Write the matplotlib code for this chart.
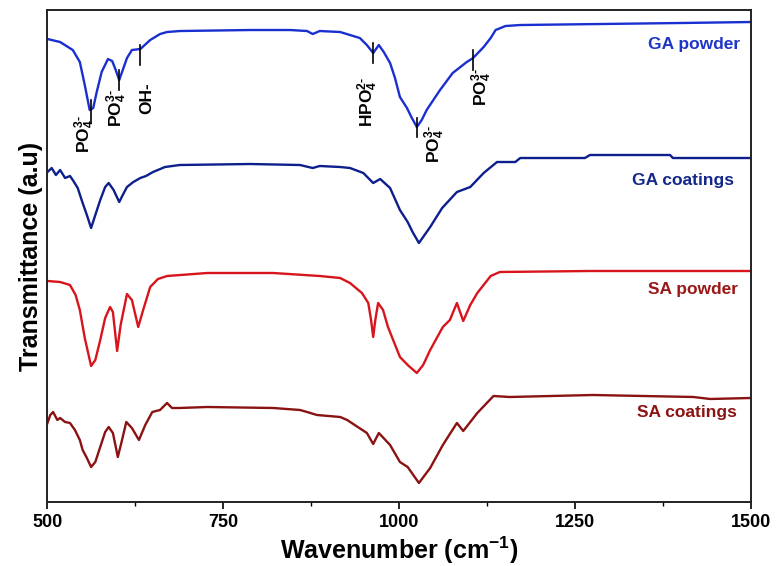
import numpy as np
import matplotlib
matplotlib.use("Agg")
import matplotlib.pyplot as plt
from matplotlib.ticker import MultipleLocator

plt.rcParams["font.family"] = ["Liberation Sans", "DejaVu Sans"]
plt.rcParams["font.weight"] = "bold"
plt.rcParams["mathtext.fontset"] = "custom"
plt.rcParams["mathtext.rm"] = "Liberation Sans:bold"
plt.rcParams["mathtext.bf"] = "Liberation Sans:bold"
plt.rcParams["mathtext.default"] = "rm"

# spectra: wavenumber (cm-1), transmittance (a.u., stacked)
ga_powder_x = [500, 518, 536, 546, 553, 560, 565, 570, 577, 586, 592, 597, 602, 606, 613, 620,
               632, 646, 660, 670, 688, 788, 845, 869, 877, 887, 916, 930, 944, 954, 963, 971,
               978, 987, 994, 1001, 1011, 1018, 1025, 1032, 1039, 1058, 1076, 1096, 1105, 1120,
               1130, 1137, 1151, 1172, 1285, 1399, 1500]
ga_powder_y = [463, 460, 452, 440, 417, 392, 394, 410, 430, 443, 441, 432, 422, 430, 444, 452,
               453, 462, 468, 470, 471, 472, 472, 471, 468, 471, 470, 467, 464, 457, 449, 457,
               450, 439, 424, 405, 394, 384, 375, 382, 392, 412, 429, 440, 444, 455,
               464, 472, 476, 477, 478, 479, 480]

ga_coat_x = [500, 506, 512, 518, 525, 532, 536, 543, 550, 556, 562, 568, 575, 582, 587, 594,
             602, 607, 613, 622, 632, 640, 650, 667, 688, 788, 859, 877, 887, 916, 930, 949,
             963, 973, 987, 1001, 1012, 1019, 1028, 1035, 1044, 1061, 1082, 1101, 1120, 1139,
             1165, 1172, 1264, 1271, 1385, 1389, 1500]
ga_coat_y = [330, 334, 327, 332, 324, 326, 322, 314, 299, 287, 274, 287, 302, 315, 319, 312,
             300, 307, 315, 320, 324, 326, 330, 335, 337, 338, 337, 334, 336, 335, 334, 329,
             319, 323, 314, 292, 280, 270, 259, 266, 275, 294, 310, 315, 329, 340,
             340, 344, 344, 347, 347, 344, 344]

sa_powder_x = [500, 518, 532, 540, 546, 553, 562, 568, 575, 582, 589, 593, 599, 604, 613, 620,
               629, 636, 646, 657, 670, 727, 821, 887, 916, 930, 947, 956, 960, 963, 966, 970,
               977, 984, 1001, 1012, 1025, 1034, 1044, 1062, 1072, 1082, 1091, 1101, 1111, 1130,
               1143, 1271, 1500]
sa_powder_y = [221, 220, 217, 207, 192, 164, 136, 142, 162, 184, 195, 190, 151, 177, 208, 202,
               175, 192, 215, 223, 226, 229, 229, 226, 224, 219, 209, 199, 182, 165, 182, 199,
               192, 175, 145, 137, 129, 137, 152, 175, 182, 199, 181, 197, 209, 226,
               230, 231, 231]

sa_coat_x = [500, 504, 508, 514, 518, 525, 532, 539, 546, 550, 556, 562, 568, 575, 582, 587,
             593, 600, 606, 612, 620, 630, 639, 649, 660, 670, 677, 688, 727, 821, 859, 869,
             883, 916, 926, 954, 963, 971, 987, 1001, 1012, 1028, 1044, 1062, 1082, 1091,
             1111, 1134, 1157, 1275, 1418, 1442, 1500]
sa_coat_y = [79, 87, 90, 82, 84, 80, 79, 72, 62, 52, 44, 35, 40, 55, 70, 75,
             69, 45, 62, 80, 74, 62, 77, 90, 92, 99, 94, 94, 95, 94, 92, 90,
             87, 85, 82, 69, 58, 69, 57, 40, 35, 19, 34, 57, 79, 71,
             89, 106, 105, 107, 105, 103, 104]

series_names = ["GA powder", "GA coatings", "SA powder", "SA coatings"]
line_colors = ["#1a2fd0", "#0d1f8c", "#d8141c", "#8b1212"]
label_colors = ["#1f35c8", "#13288a", "#9a1818", "#8b1414"]

# band assignments on the GA powder curve
band_pos = [562, 602, 632, 963, 1025, 1105]
band_text = [r"PO$_4^{3\text{-}}$", r"PO$_4^{3\text{-}}$", "OH-", r"HPO$_4^{2\text{-}}$",
             r"PO$_4^{3\text{-}}$", r"PO$_4^{3\text{-}}$"]
band_tick = [(380, 402), (412, 432), (437, 457), (439, 459), (365, 384), (432, 452)]
band_label_at = [(553, 387), (599, 413), (641, 420), (956, 425), (1051, 377), (1117, 434)]

fig = plt.figure(figsize=(7.77, 5.66), dpi=100)
ax = fig.add_axes([0.0611, 0.1131, 0.9054, 0.8692])

xs = [ga_powder_x, ga_coat_x, sa_powder_x, sa_coat_x]
ys = [ga_powder_y, ga_coat_y, sa_powder_y, sa_coat_y]
for x, y, c in zip(xs, ys, line_colors):
    ax.plot(x, y, color=c, lw=1.7, solid_joinstyle="round")

label_at = [(1485, 458), (1476, 322), (1481, 212), (1480, 89)]
for name, (lx, ly), c in zip(series_names, label_at, label_colors):
    ax.text(lx, ly, name, color=c, fontsize=12.5, fontweight="bold", ha="right", va="center")

for wn, (y0, y1), txt, (tx, ty) in zip(band_pos, band_tick, band_text, band_label_at):
    ax.plot([wn, wn], [y0, y1], color="black", lw=1.2)
    ax.text(tx, ty, txt, rotation=90, fontsize=12.5, fontweight="bold",
            ha="center", va="top", color="black")

ax.set_xlim(500, 1500)
ax.set_ylim(0, 492)
ax.xaxis.set_major_locator(MultipleLocator(250))
ax.xaxis.set_minor_locator(MultipleLocator(125))
ax.set_yticks([])
ax.tick_params(axis="x", which="major", direction="out", length=5, width=1.2, labelsize=13, pad=4)
ax.tick_params(axis="x", which="minor", direction="out", length=3, width=1.0)
for lab in ax.get_xticklabels():
    lab.set_fontweight("bold")
for sp in ax.spines.values():
    sp.set_linewidth(1.4)
    sp.set_color("#222222")

ax.set_xlabel(r"Wavenumber (cm$^{-1}$)", fontsize=18, fontweight="bold", labelpad=2)
ax.set_ylabel("Transmittance (a.u)", fontsize=18, fontweight="bold", labelpad=3)

fig.savefig("out.png", dpi=100)
